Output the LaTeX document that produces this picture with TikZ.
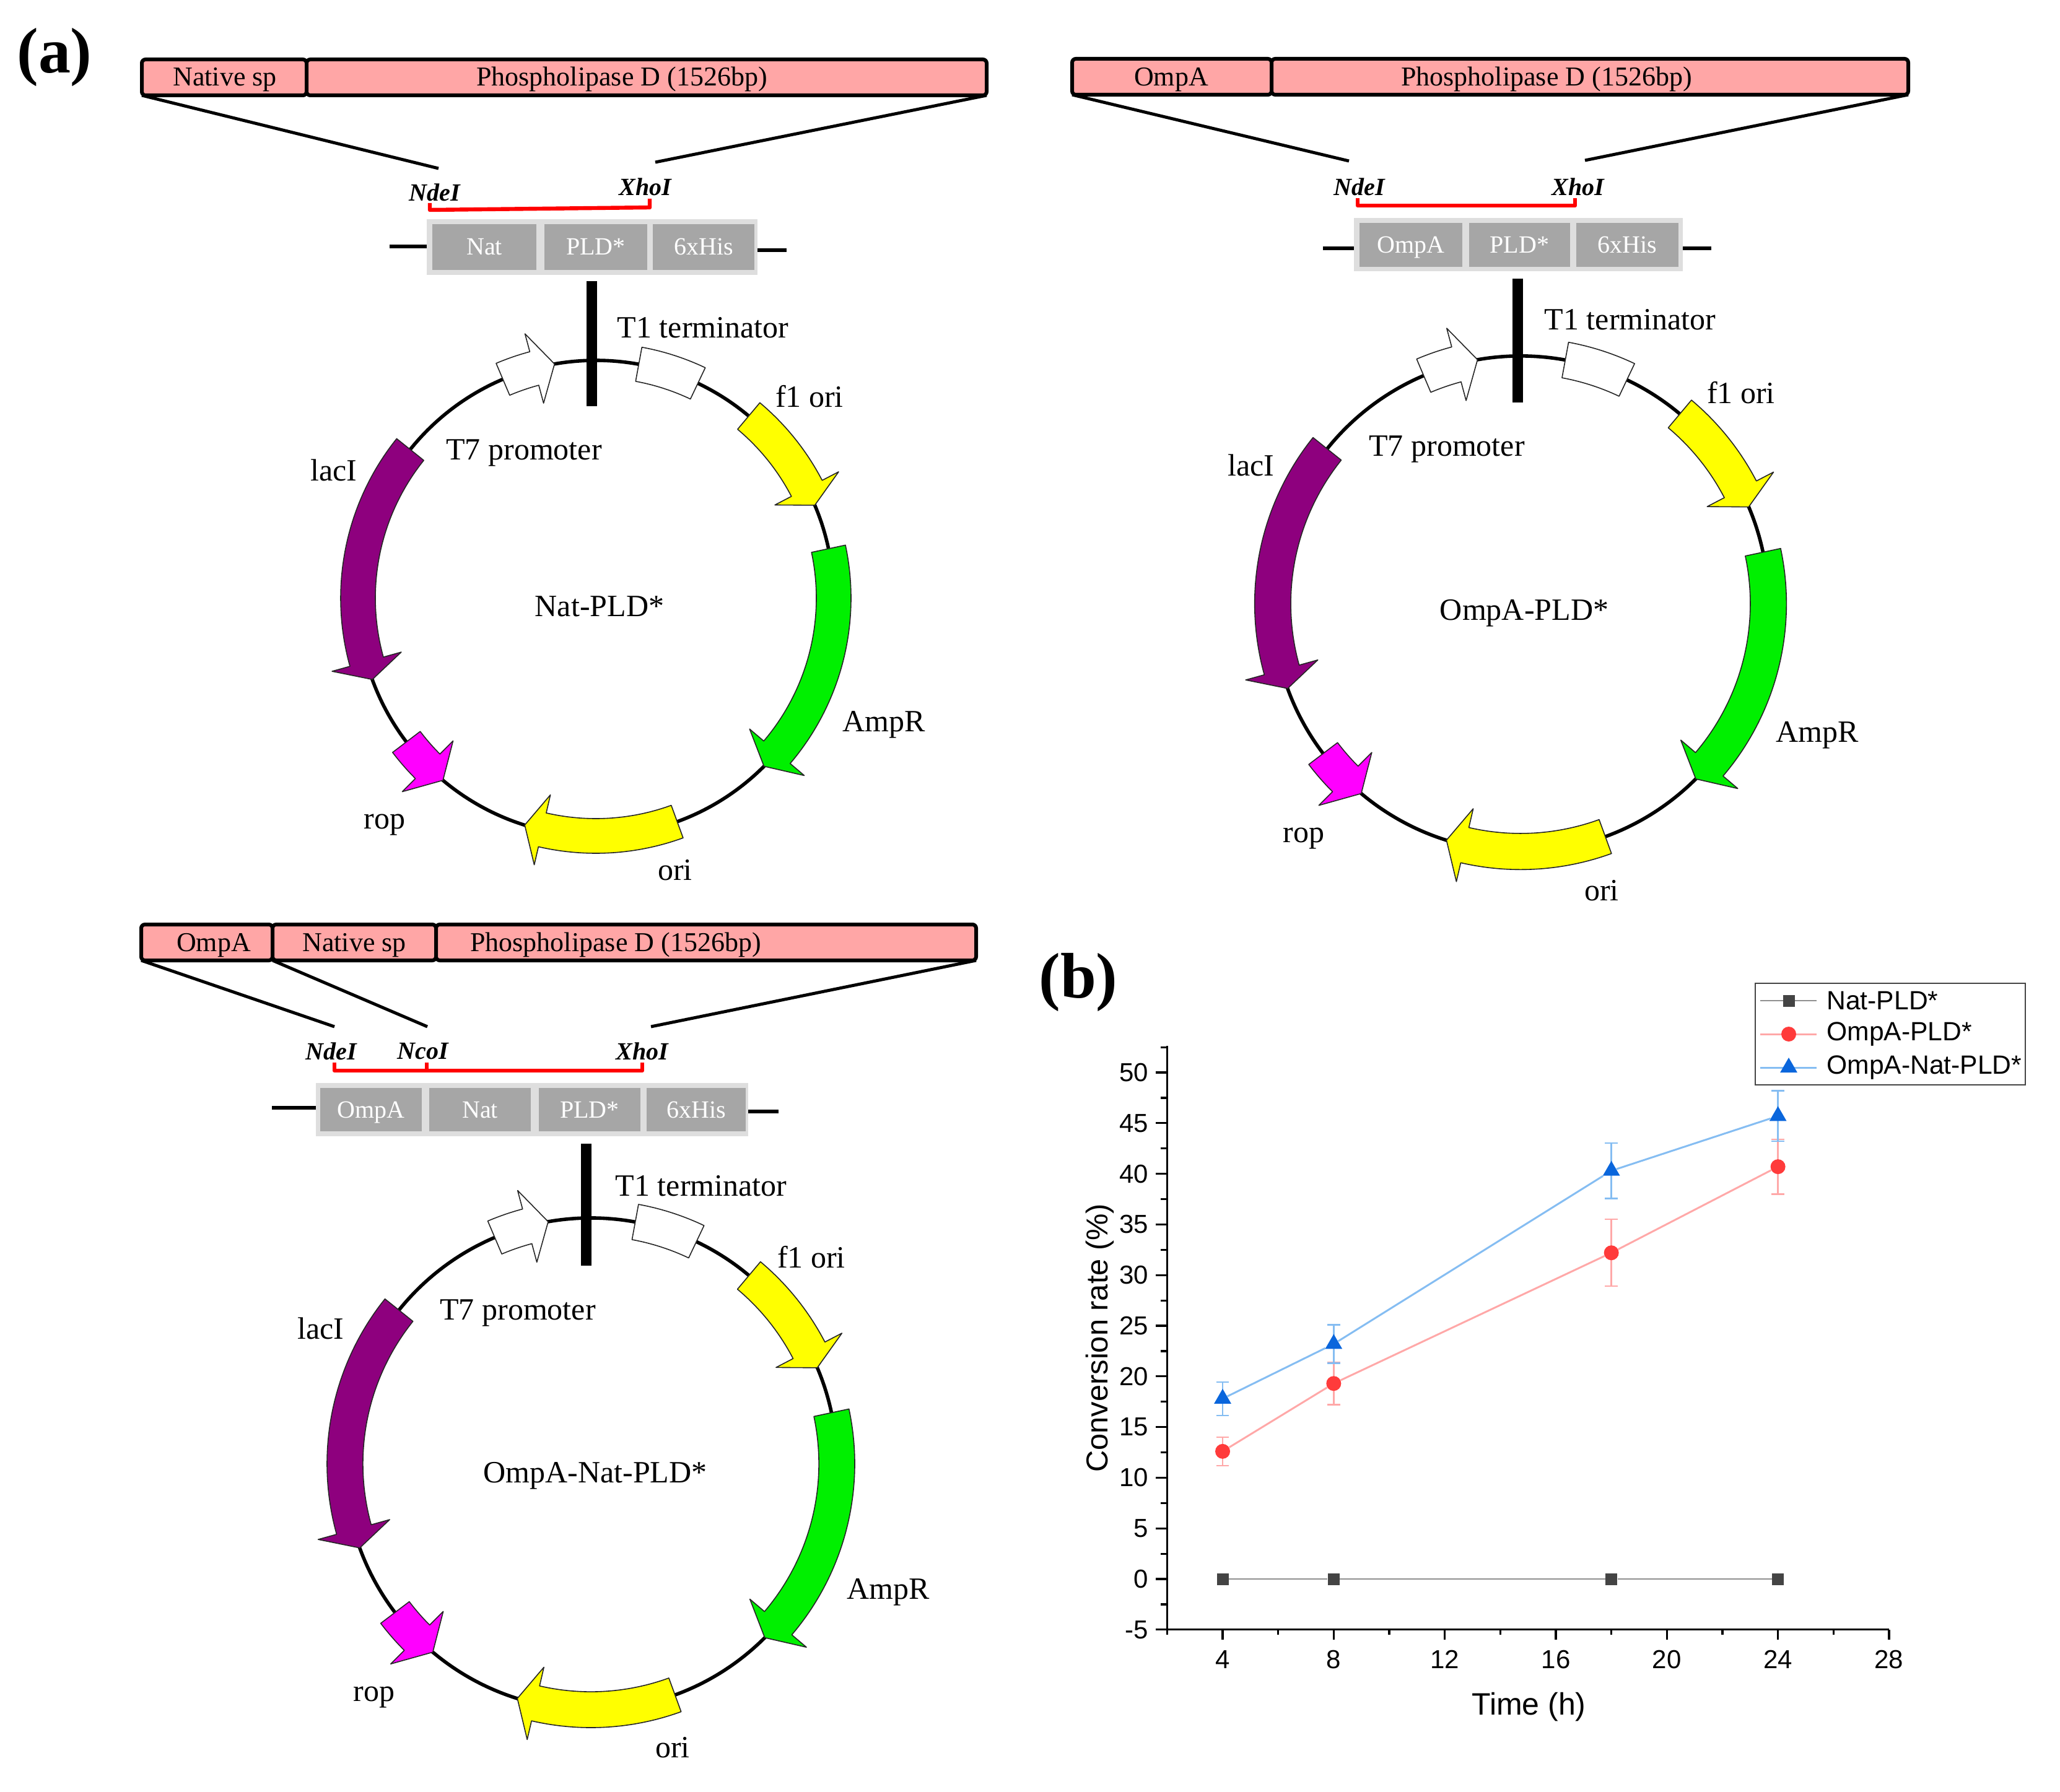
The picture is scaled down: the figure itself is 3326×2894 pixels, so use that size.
\documentclass[tikz,border=0pt]{standalone}
\usepackage{fontspec}
\setmainfont{Liberation Serif}
\newfontfamily\chartfont{Liberation Sans}
\usetikzlibrary{shapes.geometric}
\definecolor{genepink}{HTML}{FFA6A6}
\definecolor{boxgrey}{HTML}{A6A6A6}
\definecolor{framegrey}{HTML}{DEDEDE}
\definecolor{lacpurple}{HTML}{8E007E}
\definecolor{oriyellow}{HTML}{FFFF00}
\definecolor{ampgreen}{HTML}{00F000}
\definecolor{ropmagenta}{HTML}{FF00FF}
\definecolor{natgrey}{HTML}{444444}
\definecolor{ompred}{HTML}{FF3B3B}
\definecolor{ompline}{HTML}{FFA8A8}
\definecolor{natblue}{HTML}{0A66DC}
\definecolor{natline}{HTML}{85BDF2}
\tikzset{
  genebox/.style={draw,line width=3pt,fill=genepink,rounded corners=3pt,outer sep=0pt,minimum height=29pt,anchor=west},
  genetext/.style={font=\fontsize{22}{26}\selectfont,inner sep=0pt,text height=15pt,text depth=1pt},
  plaslabel/.style={font=\fontsize{25}{30}\selectfont,inner sep=0pt},
  sitelabel/.style={font=\fontsize{20}{24}\selectfont\bfseries\itshape,inner sep=0pt},
  panellabel/.style={font=\fontsize{52}{60}\selectfont\bfseries,inner sep=0pt},
  zoomline/.style={line width=2.5pt},
  stubline/.style={line width=2.8pt},
  redbracket/.style={red,line width=3.2pt,line join=round},
  framebox/.style={fill=framegrey,inner sep=0pt},
  greybox/.style={fill=boxgrey,text=white,inner sep=0pt,font=\fontsize{20}{24}\selectfont,text height=14pt,text depth=1pt},
  siteline/.style={line width=8.5pt},
  ringline/.style={line width=2.8pt},
  feature/.style={draw=black!85,line width=0.8pt,line join=round},
  axisline/.style={line width=1.6pt},
  ticklabel/.style={font=\chartfont\fontsize{21}{25}\selectfont,inner sep=0pt},
  axislabel/.style={font=\chartfont\fontsize{25}{30}\selectfont,inner sep=0pt},
  legendtext/.style={font=\chartfont\fontsize{21.3}{25}\selectfont,inner sep=0pt,anchor=west},
  markgrey/.style={fill=natgrey,inner sep=0pt,minimum size=9.5pt},
  markred/.style={circle,fill=ompred,inner sep=0pt,minimum size=12pt},
  markblue/.style={regular polygon,regular polygon sides=3,fill=natblue,inner sep=0pt,minimum size=16pt},
  errred/.style={ompline,line width=1.2pt},
  errblue/.style={natline,line width=1.2pt},
}
%% arrow on the ring: start angle, barb angle, tip angle, colour
\newcommand{\featarrow}[4]{
  \draw[feature,fill=#4] (#1:412) arc[start angle=#1,end angle=#2,radius=412] -- (#2:442) -- (#3:384) -- (#2:326) -- (#2:356) arc[start angle=#2,end angle=#1,radius=356] -- cycle;
}
%% one plasmid ring: x, y, scale
\newcommand{\plasmidring}[3]{
  \begin{scope}[shift={(#1,#2)},scale=#3]
    \draw[ringline] (0,0) circle[radius=384];
    \featarrow{113}{105}{100}{white}
    \draw[feature,fill=white] (79.6:412) arc[start angle=79.6,end angle=64.6,radius=412] -- (64.6:356) arc[start angle=64.6,end angle=79.6,radius=356] -- cycle;
    \featarrow{50}{27.5}{23}{oriyellow}
    \featarrow{12}{-40.4}{-45}{ampgreen}
    \featarrow{-70}{-103}{-107.4}{oriyellow}
    \featarrow{-142.8}{-135}{-130}{ropmagenta}
    \featarrow{141.3}{195.5}{200}{lacpurple}
  \end{scope}
}
\begin{document}
\begin{tikzpicture}[x=0.5pt,y=0.5pt]
  \useasboundingbox (0,0) rectangle (3326,-2894);
  \node[panellabel] (panela) at (88,-92) {(a)};
  \node[panellabel] (panelb) at (1741,-1586) {(b)};

  %% Nat-PLD*
  \node[genebox,minimum width=133pt] (spA) at (229,-125) {};
  \node[genebox,minimum width=549pt] (pldA) at (spA.east) {};
  \node[genetext] (spAtext) at (363,-125) {Native sp};
  \node[genetext] (pldAtext) at (1004,-125) {Phospholipase D (1526bp)};
  \coordinate (ndeAend) at (708,-272);
  \coordinate (xhoAend) at (1058,-262);
  \draw[zoomline] (spA.south west) -- (ndeAend);
  \draw[zoomline] (pldA.south east) -- (xhoAend);
  \node[sitelabel] (ndeA) at (702,-311) {NdeI};
  \node[sitelabel] (xhoA) at (1042,-302) {XhoI};
  \coordinate (brA) at (694,-328);
  \draw[redbracket] (brA) -- ++(0,-11) -- ++(355,4) -- ++(0,14);
  \node[framebox,minimum width=267pt,minimum height=45pt] (frameA) at (956,-399) {};
  \node[greybox,minimum width=84pt,minimum height=37pt] (natA) at (782,-399) {Nat};
  \node[greybox,minimum width=83pt,minimum height=37pt] (plA) at (962,-399) {PLD*};
  \node[greybox,minimum width=82pt,minimum height=37pt] (hisA) at (1136,-399) {6xHis};
  \coordinate (stubAl) at (629,-398);
  \coordinate (stubAr) at (1270,-404);
  \draw[stubline] (stubAl) -- (stubAl -| frameA.west);
  \draw[stubline] (stubAr -| frameA.east) -- (stubAr);
  \plasmidring{962}{-966}{1}
  \coordinate (barAt) at (955,-454);
  \coordinate (barAb) at (955,-656);
  \draw[siteline] (barAt) -- (barAb);
  \node[plaslabel] (t1A) at (1135,-529) {T1 terminator};
  \node[plaslabel] (f1A) at (1307,-640) {f1 ori};
  \node[plaslabel] (t7A) at (846,-731) {T7 promoter};
  \node[plaslabel] (lacA) at (539,-759) {lacI};
  \node[plaslabel] (nameA) at (968,-979) {Nat-PLD*};
  \node[plaslabel] (ampA) at (1427,-1170) {AmpR};
  \node[plaslabel] (ropA) at (621,-1332) {rop};
  \node[plaslabel] (oriA) at (1090,-1405) {ori};

  %% OmpA-PLD*
  \node[genebox,minimum width=161pt] (spB) at (1731,-124) {};
  \node[genebox,minimum width=514pt] (pldB) at (spB.east) {};
  \node[genetext] (spBtext) at (1891,-125) {OmpA};
  \node[genetext] (pldBtext) at (2497,-125) {Phospholipase D (1526bp)};
  \coordinate (ndeBend) at (2178,-260);
  \coordinate (xhoBend) at (2559,-259);
  \draw[zoomline] (spB.south west) -- (ndeBend);
  \draw[zoomline] (pldB.south east) -- (xhoBend);
  \node[sitelabel] (ndeB) at (2195,-302) {NdeI};
  \node[sitelabel] (xhoB) at (2548,-302) {XhoI};
  \coordinate (brB) at (2192,-320);
  \draw[redbracket] (brB) -- ++(0,-12) -- ++(351,0) -- ++(0,12);
  \node[framebox,minimum width=265.5pt,minimum height=43pt] (frameB) at (2451.5,-395) {};
  \node[greybox,minimum width=83pt,minimum height=35.5pt] (ompB) at (2278,-395.5) {OmpA};
  \node[greybox,minimum width=81.5pt,minimum height=35.5pt] (plB) at (2453.5,-395.5) {PLD*};
  \node[greybox,minimum width=82.5pt,minimum height=35.5pt] (hisB) at (2627.5,-395.5) {6xHis};
  \coordinate (stubBl) at (2136,-401);
  \coordinate (stubBr) at (2763,-401);
  \draw[stubline] (stubBl) -- (stubBl -| frameB.west);
  \draw[stubline] (stubBr -| frameB.east) -- (stubBr);
  \plasmidring{2455}{-975}{1.042}
  \coordinate (barBt) at (2450,-450);
  \coordinate (barBb) at (2450,-650);
  \draw[siteline] (barBt) -- (barBb);
  \node[plaslabel] (t1B) at (2632,-516) {T1 terminator};
  \node[plaslabel] (f1B) at (2811,-634) {f1 ori};
  \node[plaslabel] (t7B) at (2336,-725) {T7 promoter};
  \node[plaslabel] (lacB) at (2020,-751) {lacI};
  \node[plaslabel] (nameB) at (2461,-990) {OmpA-PLD*};
  \node[plaslabel] (ampB) at (2934,-1187) {AmpR};
  \node[plaslabel] (ropB) at (2105,-1354) {rop};
  \node[plaslabel] (oriB) at (2586,-1438) {ori};

  %% OmpA-Nat-PLD*
  \node[genebox,minimum width=106pt] (ompC) at (228,-1522) {};
  \node[genebox,minimum width=132pt] (spC) at (ompC.east) {};
  \node[genebox,minimum width=436pt] (pldC) at (spC.east) {};
  \node[genetext] (ompCtext) at (345,-1522) {OmpA};
  \node[genetext] (spCtext) at (572,-1522) {Native sp};
  \node[genetext] (pldCtext) at (994,-1522) {Phospholipase D (1526bp)};
  \coordinate (ndeCend) at (540,-1658);
  \coordinate (ncoCend) at (690,-1658);
  \coordinate (xhoCend) at (1051,-1658);
  \draw[zoomline] (ompC.south west) -- (ndeCend);
  \draw[zoomline] (spC.south west) -- (ncoCend);
  \draw[zoomline] (pldC.south east) -- (xhoCend);
  \node[sitelabel] (ndeC) at (535,-1698) {NdeI};
  \node[sitelabel] (ncoC) at (683,-1698) {NcoI};
  \node[sitelabel] (xhoC) at (1037,-1698) {XhoI};
  \coordinate (brC) at (540,-1716);
  \coordinate (brCmid) at (689,-1716);
  \draw[redbracket] (brC) -- ++(0,-13) -- ++(497,0) -- ++(0,13);
  \draw[redbracket] (brCmid) -- ++(0,-13);
  \node[framebox,minimum width=349pt,minimum height=43pt] (frameC) at (859,-1792) {};
  \node[greybox,minimum width=82pt,minimum height=35pt] (ompCbox) at (599,-1792) {OmpA};
  \node[greybox,minimum width=82pt,minimum height=35pt] (natC) at (775,-1792) {Nat};
  \node[greybox,minimum width=82pt,minimum height=35pt] (plC) at (952,-1792) {PLD*};
  \node[greybox,minimum width=80pt,minimum height=35pt] (hisC) at (1124,-1792) {6xHis};
  \coordinate (stubCl) at (439,-1789);
  \coordinate (stubCr) at (1257,-1795);
  \draw[stubline] (stubCl) -- (stubCl -| frameC.west);
  \draw[stubline] (stubCr -| frameC.east) -- (stubCr);
  \plasmidring{954}{-2364}{1.034}
  \coordinate (barCt) at (946,-1847);
  \coordinate (barCb) at (946,-2044);
  \draw[siteline] (barCt) -- (barCb);
  \node[plaslabel] (t1C) at (1132,-1915) {T1 terminator};
  \node[plaslabel] (f1C) at (1310,-2030) {f1 ori};
  \node[plaslabel] (t7C) at (836,-2120) {T7 promoter};
  \node[plaslabel] (lacC) at (518,-2145) {lacI};
  \node[plaslabel] (nameC) at (961,-2383) {OmpA-Nat-PLD*};
  \node[plaslabel] (ampC) at (1434,-2571) {AmpR};
  \node[plaslabel] (ropC) at (604,-2741) {rop};
  \node[plaslabel] (oriC) at (1086,-2822) {ori};

  %% conversion chart, coordinates are hours and percent
  \begin{scope}[shift={(1794.7,-2550)},x=22.415pt,y=8.18pt]
    \draw[axisline] (2,52.6) -- (2,-5) -- (28,-5);
    \foreach \y in {-5,0,...,50} {
      \draw[axisline] (2,\y) -- ++(-9pt,0);
      \node[ticklabel,anchor=east] (ytick\y) at ([xshift=-15pt]2,\y) {\y};
    }
    \foreach \y in {-2.5,2.5,...,52.5}
      \draw[axisline] (2,\y) -- ++(-5pt,0);
    \foreach \x in {4,8,...,28} {
      \draw[axisline] (\x,-5) -- ++(0,-8pt);
      \node[ticklabel] (xtick\x) at ([yshift=-24pt]\x,-5) {\x};
    }
    \foreach \x in {2,6,...,26}
      \draw[axisline] (\x,-5) -- ++(0,-4pt);
    \node[axislabel] (timelabel) at (15.03,-12.6) {Time (h)};
    \node[axislabel,rotate=90,font=\chartfont\fontsize{24.4}{29}\selectfont] (ratelabel) at (-0.42,23.8) {Conversion rate (\%)};

    %% error bars
    \foreach \x/\y/\e in {4/12.6/1.4,8/19.3/2.1,18/32.2/3.3,24/40.7/2.7}
      \draw[errred] (\x-.23,\y+\e) -- (\x+.23,\y+\e) (\x,\y+\e) -- (\x,\y-\e) (\x-.23,\y-\e) -- (\x+.23,\y-\e);
    \foreach \x/\y/\e in {4/17.8/1.65,8/23.2/1.9,18/40.3/2.75,24/45.7/2.5}
      \draw[errblue] (\x-.23,\y+\e) -- (\x+.23,\y+\e) (\x,\y+\e) -- (\x,\y-\e) (\x-.23,\y-\e) -- (\x+.23,\y-\e);

    %% points and lines
    \foreach \x in {4,8,18,24}
      \node[markgrey] (nat\x) at (\x,0) {};
    \foreach \x/\y in {4/12.6,8/19.3,18/32.2,24/40.7}
      \node[markred] (omp\x) at (\x,\y) {};
    \foreach \x/\y in {4/17.8,8/23.2,18/40.3,24/45.7}
      \node[markblue] (both\x) at (\x,\y) {};
    \draw[natgrey!60,line width=1.2pt] (nat4) -- (nat8) -- (nat18) -- (nat24);
    \draw[ompline,line width=1.5pt] (omp4) -- (omp8) -- (omp18) -- (omp24);
    \draw[natline,line width=1.5pt] (both4) -- (both8) -- (both18) -- (both24);
  \end{scope}

  %% legend
  \node[draw=natgrey,line width=0.9pt,fill=white,minimum width=218pt,minimum height=82pt,inner sep=0pt] (legend) at (3052,-1670) {};
  \coordinate (legAl) at (2842,-1616);
  \coordinate (legAr) at (2933,-1616);
  \coordinate (legBl) at (2842,-1670);
  \coordinate (legBr) at (2933,-1670);
  \coordinate (legCl) at (2842,-1724);
  \coordinate (legCr) at (2933,-1724);
  \draw[natgrey!60,line width=1.2pt] (legAl) -- (legAr);
  \draw[ompline,line width=1.5pt] (legBl) -- (legBr);
  \draw[natline,line width=1.5pt] (legCl) -- (legCr);
  \node[markgrey] (legAm) at (2888,-1616) {};
  \node[markred] (legBm) at (2888,-1670) {};
  \node[markblue] (legCm) at (2888,-1724) {};
  \node[legendtext] (legAt) at (2949,-1616) {Nat-PLD*};
  \node[legendtext] (legBt) at (2949,-1670) {OmpA-PLD*};
  \node[legendtext] (legCt) at (2949,-1724) {OmpA-Nat-PLD*};
\end{tikzpicture}
\end{document}
